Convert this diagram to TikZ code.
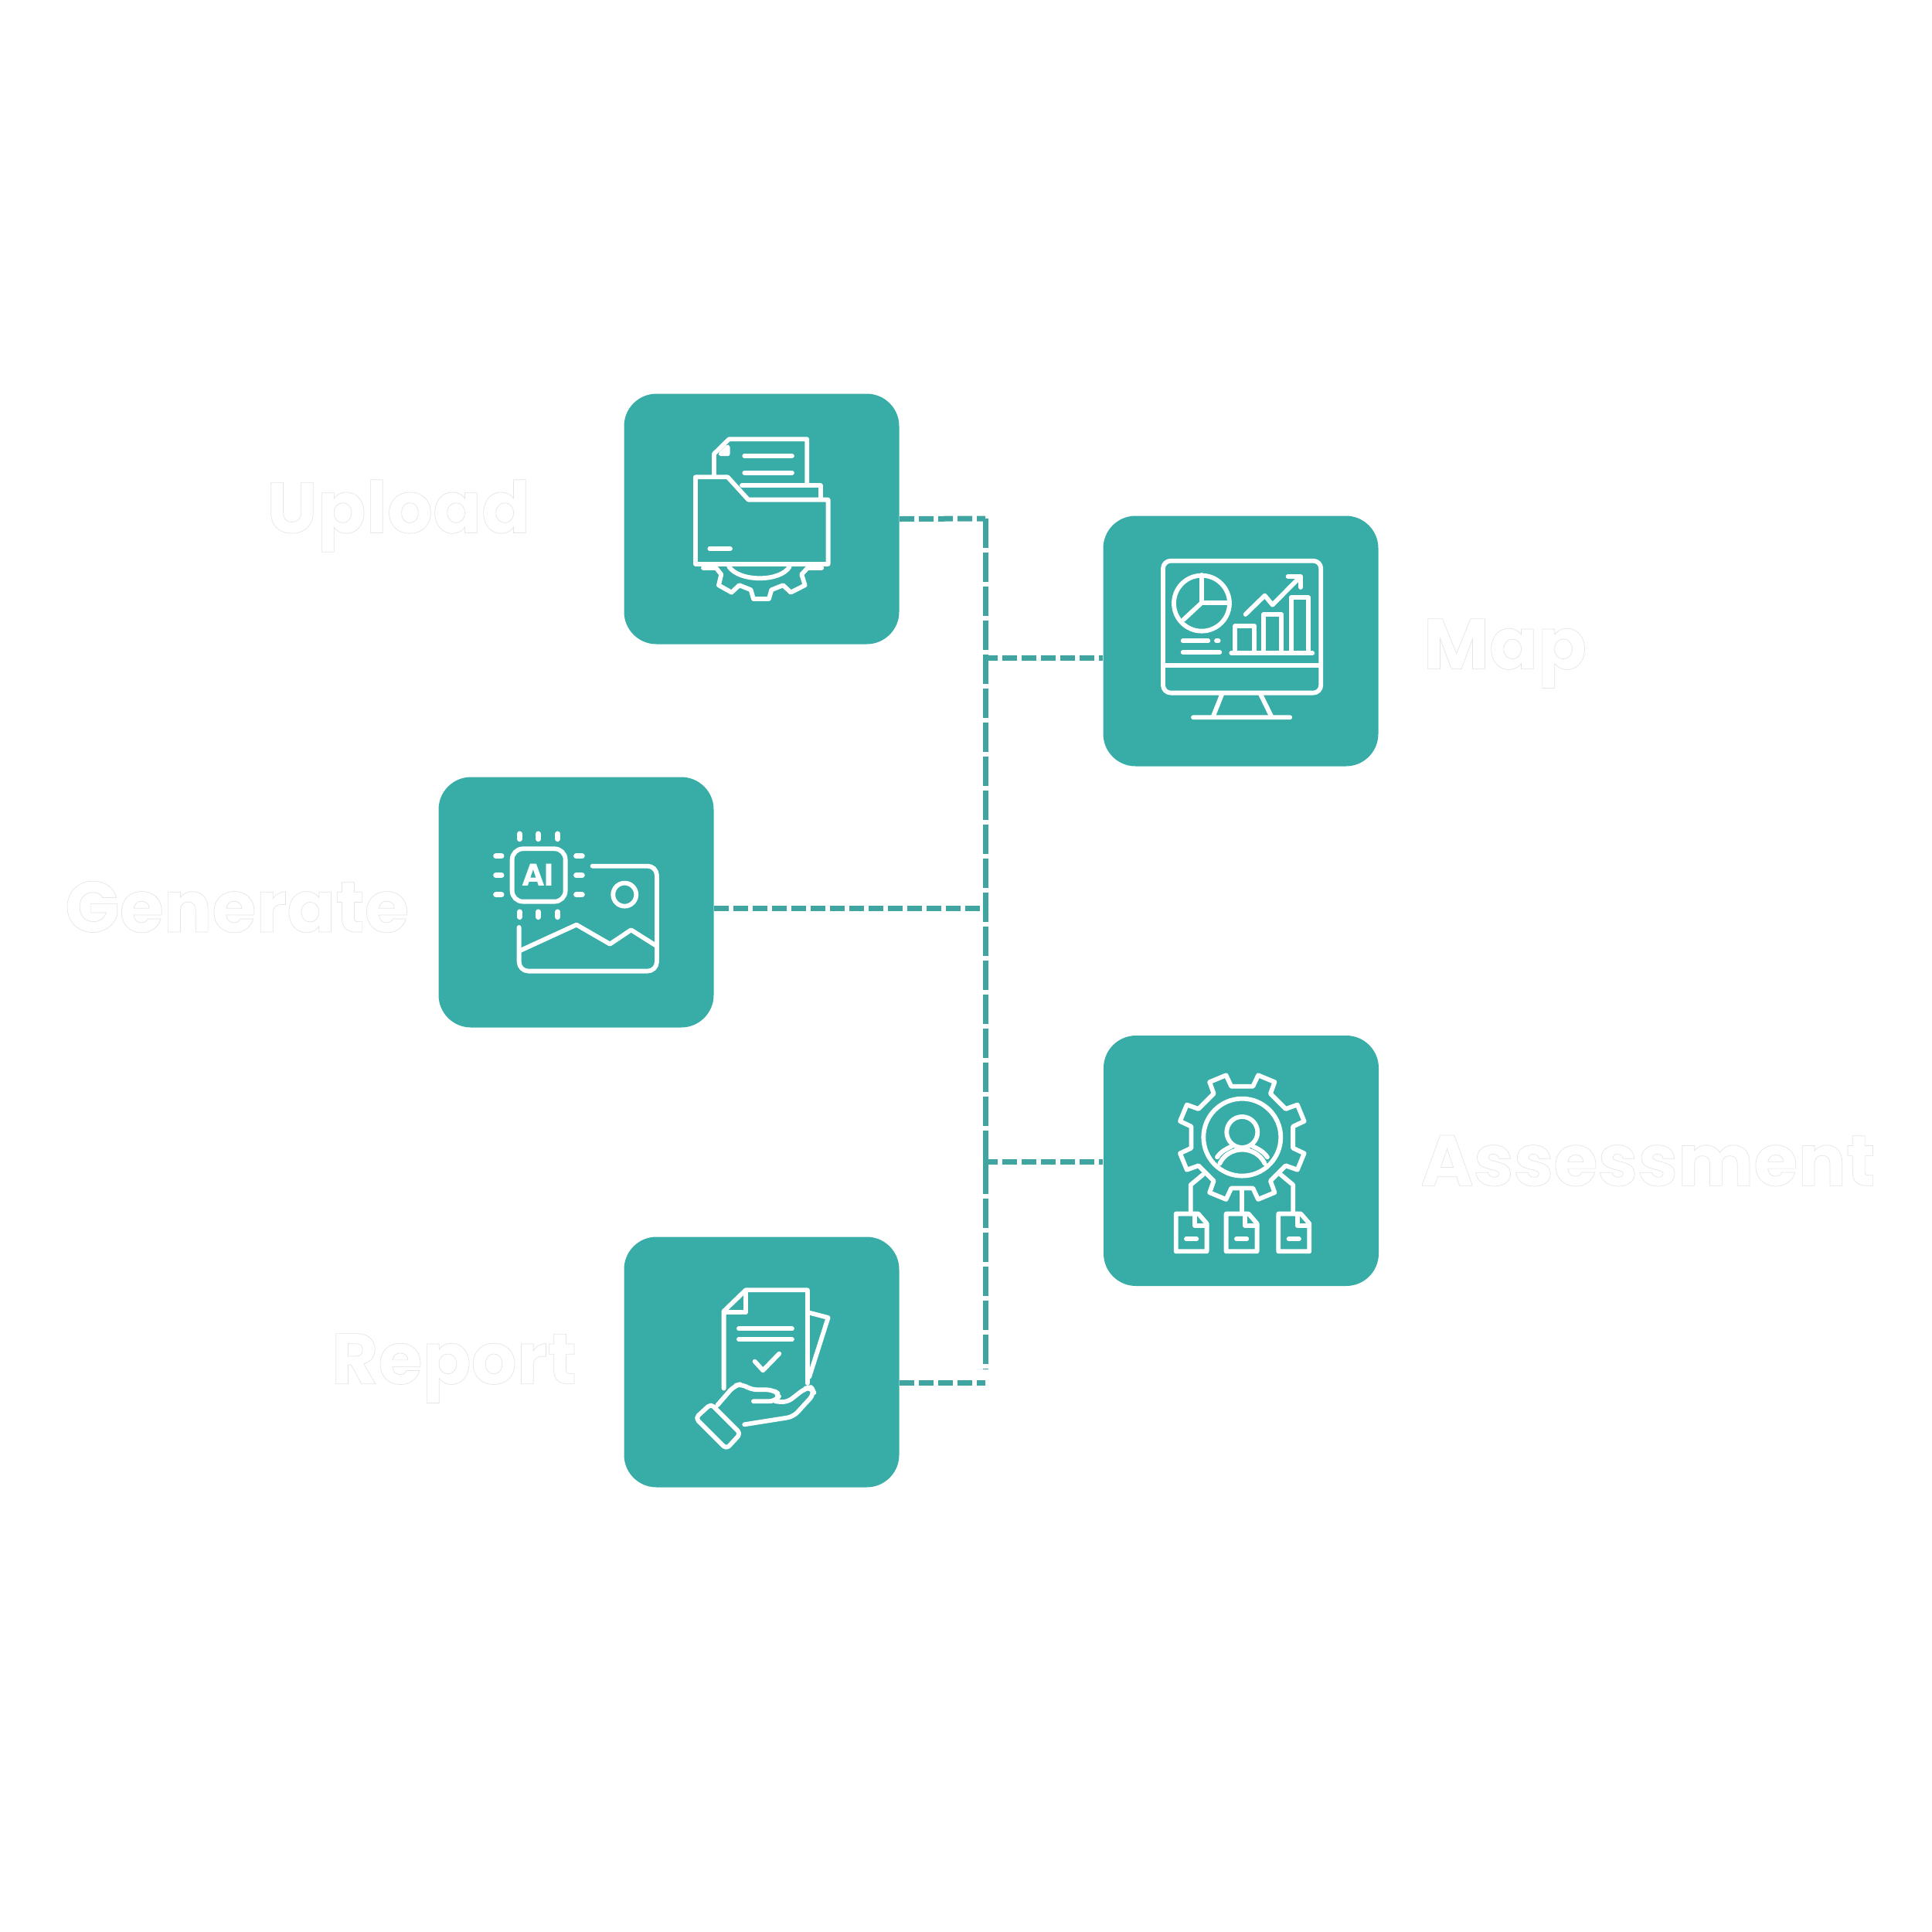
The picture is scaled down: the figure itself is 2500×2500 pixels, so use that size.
\documentclass[tikz,border=0pt]{standalone}
\usepackage{fontspec}
\usepackage{tikz}
\usetikzlibrary{arrows.meta,positioning}
\newfontfamily\lblfont{Poppins}
\definecolor{tealbox}{HTML}{38ADA7}
\definecolor{teallink}{HTML}{40A5A0}
\newcommand{\ghostword}[1]{\special{pdf:code q 2 Tr 0.2 w 0.9 G 1 g}#1\special{pdf:code Q}}

\begin{document}
\begin{tikzpicture}[x=.1mm,y=-.1mm,
 box/.style={fill=tealbox,rounded corners=4.2mm,inner sep=0pt,
 minimum width=35.6mm,minimum height=32.4mm},
 lbl/.style={font=\lblfont\bfseries\fontsize{26.4}{32}\selectfont,text=white,inner sep=0pt},
 hlink/.style={draw=teallink,line width=.7mm,dash pattern=on 1.9mm off .6mm},
 vlink/.style={draw=teallink,line width=.7mm,dash pattern=on 3.8mm off .6mm},
 icon/.style={draw=white,line width=.58mm,line join=round,line cap=round}]
\useasboundingbox (0,0) rectangle (2500,2500);
\node[box] (upload) at (985.5,671.5) {};
\node[box] (map) at (1605.5,829.5) {};
\node[box] (generate) at (745.5,1167.5) {};
\node[box] (assess) at (1606,1502) {};
\node[box] (report) at (985.5,1762.5) {};
\node[lbl,left=12mm of upload,yshift=.4mm] (uploadtxt) {\ghostword{Upload}};
\node[lbl,right=5.7mm of map,yshift=-1.6mm] (maptxt) {\ghostword{Map}};
\node[lbl,left=3.7mm of generate,yshift=-.6mm] (generatetxt) {\ghostword{Generate}};
\node[lbl,right=5.3mm of assess] (assesstxt) {\ghostword{Assessment}};
\node[lbl,left=6mm of report,yshift=-.8mm] (reporttxt) {\ghostword{Report}};
\coordinate (spinetop) at (1275,671);
\coordinate (spinebot) at (1275,1772);
\coordinate (mapjoin) at (1272,851);
\coordinate (genjoin) at (1275,1175);
\coordinate (assessjoin) at (1272,1503);
\coordinate (reportjoin) at (1275,1789);
\draw[hlink] (upload.east)--(spinetop);
\draw[vlink] (spinetop)--(spinebot);
\draw[hlink] (mapjoin)--(map.west |- mapjoin);
\draw[hlink] (generate.east |- genjoin)--(genjoin);
\draw[hlink] (assessjoin)--(assess.west |- assessjoin);
\draw[hlink] (report.east |- reportjoin)--(reportjoin);
\begin{scope}[shift={(800,500)},x=.03333mm,y=-.03333mm,icon]
\draw (372,345)--(372,262)--(430,205)--(733,205)--(733,378);
\draw (425,235)--(425,262)--(398,262)--cycle;
\draw (490,270)--(675,270) (490,335)--(675,335);
\draw (480,385)--(785,385)--(785,435);
\draw (300,690)--(300,352)--(425,352)--(505,440)--(815,440)--(815,690)--cycle;
\draw (355,630)--(435,630);
\draw (330,705)--(380,705)--(400,730)--(390,772)--(440,800)--(470,772)--(515,790)--(525,825)
 --(585,825)--(595,790)--(640,772)--(670,800)--(725,772)--(712,730)--(735,705)--(790,705);
\draw (430,700) .. controls (470,760) and (630,760) .. (665,700);
\end{scope}
\begin{scope}[shift={(1420,660)},x=.03333mm,y=-.03333mm,icon]
\draw[rounded corners=1mm] (255,197) rectangle (868,710);
\draw (255,603)--(868,603);
\draw (485,712)--(450,800) (632,712)--(675,800) (372,805)--(748,805);
\draw (405,362) circle (108);
\draw (405,252)--(405,360)--(510,360) (405,360)--(335,425);
\draw (332,508)--(430,508) (462,508)--(470,508) (332,552)--(475,552);
\draw (520,555)--(835,555);
\draw (535,548)--(535,450)--(610,450)--(610,548);
\draw (645,548)--(645,405)--(715,405)--(715,548);
\draw (752,548)--(752,340)--(820,340)--(820,548);
\draw (575,405)--(650,332)--(680,368)--(785,262);
\draw (740,258)--(790,258)--(790,300);
\end{scope}
\begin{scope}[shift={(560,1000)},x=.03333mm,y=-.03333mm,icon]
\draw[rounded corners=1.4mm] (308,295) rectangle (515,500);
\node[font=\lblfont\bfseries\fontsize{11.5}{12}\selectfont,text=white,inner sep=0pt] (aitext) at (408,397) {AI};
\foreach \px in {337,410,485} {
 \draw[line width=.7mm] (\px,237)--(\px,257);
 \draw[line width=.7mm] (\px,540)--(\px,560);
}
\foreach \py in {323,398,473} {
 \draw[line width=.7mm] (245,\py)--(267,\py);
 \draw[line width=.7mm] (557,\py)--(580,\py);
}
\draw[rounded corners=1.2mm] (620,362)--(870,362)--(870,770)--(335,770)--(335,600);
\draw (745,473) circle (45);
\draw (340,690)--(558,590)--(688,665)--(770,610)--(865,670);
\end{scope}
\begin{scope}[shift={(1420,1340)},x=.03333mm,y=-.03333mm,icon]
\begin{scope}[shift={(562,395)}]
\draw (22.5-10.5:202)
 \foreach \a in {22.5,67.5,...,337.5} { -- (\a-10.5:202)--(\a-8:249)--(\a+8:249)--(\a+10.5:202) } -- cycle;
\draw (0,0) circle (150);
\draw (0,-20) circle (60);
\end{scope}
\draw (475,497) .. controls (510,425) and (615,425) .. (650,497);
\draw (465,472) .. controls (480,450) and (500,440) .. (522,430);
\draw (660,472) .. controls (645,450) and (625,440) .. (603,430);
\draw (410,540)--(362,580)--(362,690);
\draw (562,600)--(562,690);
\draw (712,540)--(760,580)--(760,690);
\foreach \dx in {0,195,398} {
 \begin{scope}[xshift=\dx*.03333mm]
 \draw (305,838)--(305,692)--(392,692)--(425,730)--(425,838)--cycle;
 \draw (378,692)--(378,738)--(425,738);
 \draw (345,790)--(385,790);
 \end{scope}
}
\end{scope}
\begin{scope}[shift={(800,1600)},x=.03333mm,y=-.03333mm,icon]
\draw (410,590)--(410,290)--(495,208)--(735,208)--(735,570);
\draw (495,210)--(495,295)--(412,295);
\draw (468,358)--(675,358) (468,400)--(675,400);
\draw (530,485)--(562,520)--(625,455);
\draw (738,295)--(815,315)--(742,545);
\draw[rounded corners=.8mm] (385,655)--(450,580)--(480,572)--(515,595)--(600,595)--(628,615)--(610,640)--(525,640);
\draw[rounded corners=.8mm] (610,640)--(655,645)--(725,590)--(750,585)--(762,610)--(680,700)--(490,730);
\draw[rounded corners=.5mm] (300,705)--(360,650)--(475,765)--(420,825)--cycle;
\end{scope}
\end{tikzpicture}
\end{document}
